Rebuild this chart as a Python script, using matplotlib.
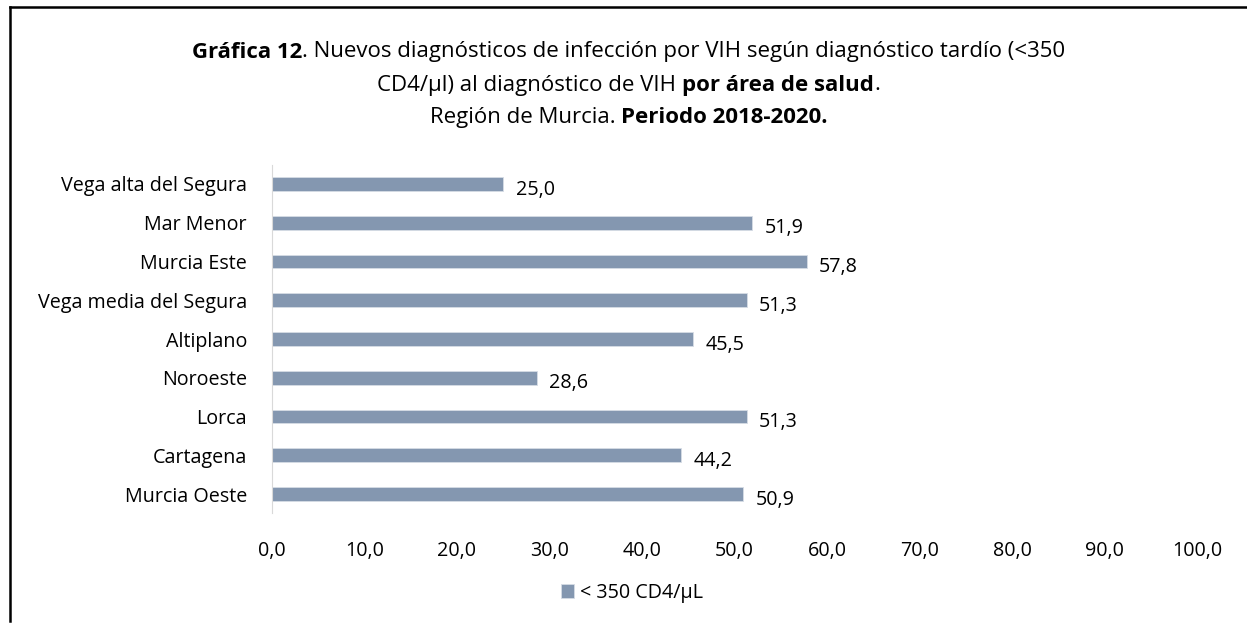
import matplotlib
matplotlib.use("Agg")
import matplotlib.pyplot as plt
from matplotlib.lines import Line2D

categories = ["Murcia Oeste", "Cartagena", "Lorca", "Noroeste", "Altiplano",
              "Vega media del Segura", "Murcia Este", "Mar Menor", "Vega alta del Segura"]
values = [50.9, 44.2, 51.3, 28.6, 45.5, 51.3, 57.8, 51.9, 25.0]
xticks = [0, 10, 20, 30, 40, 50, 60, 70, 80, 90, 100]
series_name = "< 350 CD4/µL"

plt.rcParams['font.family'] = ['Open Sans', 'DejaVu Sans']
W, H = 1247, 623
FS = 14.2
TFS = 16
fig = plt.figure(figsize=(W / 100, H / 100), dpi=100)

# outer border: top and left edges only (frame runs past the image on right/bottom)
fig.add_artist(Line2D([9.5 / W, 1.0], [1 - 6.5 / H, 1 - 6.5 / H], transform=fig.transFigure,
                      color='black', linewidth=1.8))
fig.add_artist(Line2D([9.5 / W, 9.5 / W], [1 - 6.5 / H, 1 - 621 / H], transform=fig.transFigure,
                      color='black', linewidth=1.8))

left, right = 272 / W, 1197 / W
top, bottom = 164.6 / H, 513.4 / H
ax = fig.add_axes([left, 1 - bottom, right - left, bottom - top])

color = '#8497B0'
ypos = list(range(len(categories)))
ax.barh(ypos, values, height=0.36, color=color, edgecolor='#D6DCE5', linewidth=0.6,
        label=series_name)
for y, v in zip(ypos, values):
    ax.annotate(f"{v:.1f}".replace('.', ','), (v, y), xytext=(9, -4), textcoords='offset points',
                va='center', ha='left', fontsize=FS, color='black')

ax.set_xlim(0, 100)
ax.set_ylim(-0.5, len(categories) - 0.5)
ax.set_yticks(ypos)
ax.set_yticklabels(categories, fontsize=FS)
ax.set_xticks(xticks)
ax.set_xticklabels([f"{t:.1f}".replace('.', ',') for t in xticks], fontsize=FS)
for s in ['top', 'right', 'bottom']:
    ax.spines[s].set_visible(False)
ax.spines['left'].set_color('#D9D9D9')
ax.tick_params(axis='y', length=0, pad=18)
ax.tick_params(axis='x', length=0, pad=20)


def title_line(y, parts):
    r = fig.canvas.get_renderer()
    texts, widths = [], []
    for t, b in parts:
        tx = fig.text(0, 1 - y / H, t, fontsize=TFS, fontweight='bold' if b else 'normal',
                      va='center', ha='left')
        texts.append(tx)
        widths.append(tx.get_window_extent(renderer=r).width)
    x = W / 2 + 5 - sum(widths) / 2
    for tx, w in zip(texts, widths):
        tx.set_x(x / W)
        x += w


title_line(52, [("Gráfica 12", True), (". Nuevos diagnósticos de infección por VIH según diagnóstico tardío (<350", False)])
title_line(85, [("CD4/µl) al diagnóstico de VIH ", False), ("por área de salud", True), (".", False)])
title_line(117, [("Región de Murcia. ", False), ("Periodo 2018-2020.", True)])

fig.legend(handles=ax.containers[0][:1], labels=[series_name], loc='center',
           bbox_to_anchor=(632 / W, 1 - 593 / H), frameon=False, fontsize=FS,
           handlelength=0.7, handleheight=0.7, handletextpad=0.3)

fig.savefig("out.png", dpi=100)
